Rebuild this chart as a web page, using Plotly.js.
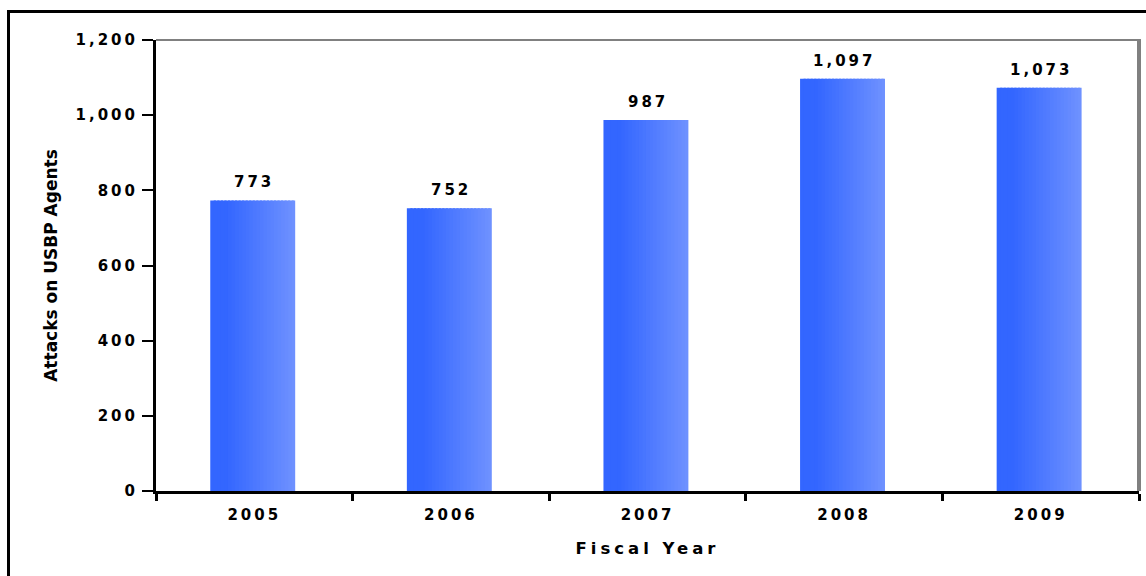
<!DOCTYPE html>
<html>
<head>
<meta charset="utf-8">
<script src="https://cdn.plot.ly/plotly-3.0.1.min.js"></script>
<style>
  html, body { margin:0; padding:0; background:#fff; overflow:hidden; }
  #frame { position:absolute; left:7px; top:10px; width:3000px; height:3000px; border:3px solid #000; pointer-events:none; }
  #chart { position:absolute; left:0; top:0; width:1146px; height:576px; }
  .xtick text, .ytick text { letter-spacing:3px; }
  .annotation-text { letter-spacing:3px; }
  .g-xtitle text { letter-spacing:4px; }
</style>
</head>
<body>
<div id="chart"></div>
<div id="frame"></div>
<script>
// Data
const years = ['2005', '2006', '2007', '2008', '2009'];
const attacks = [773, 752, 987, 1097, 1073];
const yTickVals = [0, 200, 400, 600, 800, 1000, 1200];

// Gradient bars drawn as thin overlaid slices of the same bar
const barWidth = 0.432;
const nSlices = 24;
const cStart = [51, 102, 255];
const cEnd = [110, 145, 255];
const traces = [];
for (let i = 0; i < nSlices; i++) {
  const t = Math.max(0, (i / (nSlices - 1) - 0.18) / 0.82);
  const c = cStart.map((v, k) => Math.round(v + (cEnd[k] - v) * t));
  const w = barWidth / nSlices;
  traces.push({
    type: 'bar',
    x: years,
    y: attacks,
    offset: -barWidth / 2 - 0.008 + i * w,
    width: i === nSlices - 1 ? w : w * 1.6,
    marker: { color: 'rgb(' + c.join(',') + ')', line: { width: 0 } },
    hoverinfo: 'skip',
    showlegend: false
  });
}

const fontFam = '"DejaVu Sans", Verdana, Arial, sans-serif';
const annotations = years.map((yr, i) => ({
  x: i, y: attacks[i], xref: 'x', yref: 'y',
  text: attacks[i].toLocaleString('en-US'),
  showarrow: false, yanchor: 'bottom', yshift: 7,
  font: { family: fontFam, size: 15, color: '#000', weight: 'bold' }
}));

const layout = {
  width: 1146, height: 576,
  margin: { l: 156, r: 7, t: 40, b: 85, pad: 0 },
  paper_bgcolor: '#fff', plot_bgcolor: '#fff',
  barmode: 'overlay',
  showlegend: false,
  xaxis: {
    type: 'category',
    categoryarray: years,
    range: [-0.5, years.length - 0.5],
    autorange: false,
    tickson: 'boundaries',
    ticks: 'outside', ticklen: 7, tickwidth: 3, tickcolor: '#000',
    showline: true, linecolor: '#000', linewidth: 3,
    showgrid: false, zeroline: false,
    tickangle: 0,
    ticklabelstandoff: 8,
    tickfont: { family: fontFam, size: 15, color: '#000', weight: 'bold' },
    title: { text: 'Fiscal Year', standoff: 20, font: { family: fontFam, size: 16.5, color: '#000', weight: 'bold' } }
  },
  yaxis: {
    range: [0, 1200],
    autorange: false,
    tickvals: yTickVals,
    tickformat: ',',
    ticks: 'outside', ticklen: 11, tickwidth: 2, tickcolor: '#000',
    showline: true, linecolor: '#000', linewidth: 3,
    showgrid: false, zeroline: false,
    tickfont: { family: fontFam, size: 15, color: '#000', weight: 'bold' },
    ticklabelstandoff: 1,
    title: { text: 'Attacks on USBP Agents', standoff: 14, font: { family: fontFam, size: 17, color: '#000', weight: 'bold' } }
  },
  annotations: annotations,
  shapes: [
    { type: 'line', xref: 'paper', yref: 'paper', x0: 0, x1: 1.002, y0: 1, y1: 1, line: { color: '#808080', width: 2 } },
    { type: 'line', xref: 'paper', yref: 'paper', x0: 1, x1: 1, y0: 0, y1: 1, line: { color: '#808080', width: 4 } }
  ]
};

Plotly.newPlot('chart', traces, layout, { staticPlot: true, displayModeBar: false });
</script>
</body>
</html>
